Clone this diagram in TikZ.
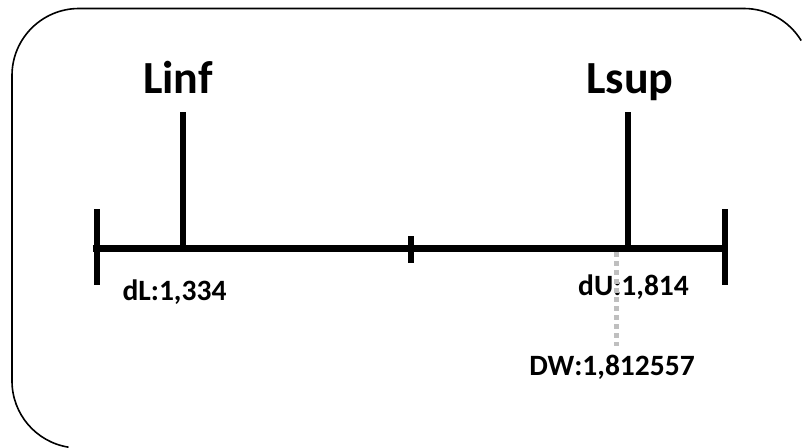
\documentclass[tikz,border=0pt]{standalone}
\usepackage{fontspec}
\setmainfont{Carlito}
\begin{document}
\begin{tikzpicture}[x=1pt,y=-1pt,
  frame/.style={draw=black,line width=1.6pt},
  axis/.style={line width=7pt},
  stick/.style={line width=6pt},
  guide/.style={draw=black!25,line width=5pt,dash pattern=on 5pt off 4pt},
  big/.style={font=\bfseries\fontsize{46}{46}\selectfont,inner sep=0pt,anchor=base},
  small/.style={font=\bfseries\fontsize{29.5}{29.5}\selectfont,inner sep=0pt,anchor=base}]
\useasboundingbox (0,0) rectangle (802,447);
% frame (only the visible part)
\coordinate (ftop) at (744,8.5);
\draw[frame] (ftop) arc[start angle=-90,end angle=-31.4,radius=67];
\draw[frame] (ftop) -- (79,8.5) arc[start angle=-90,end angle=-180,radius=67]
  -- (12,381) arc[start angle=180,end angle=99,radius=67];
% axis
\coordinate (A) at (93,248);
\coordinate (B) at (727,248);
\draw[axis] (A) -- (B);
\coordinate (Atop) at (96.5,209);
\coordinate (Abot) at (96.5,285);
\draw[stick] (Atop) -- (Abot);
\coordinate (Btop) at (724.5,209);
\coordinate (Bbot) at (724.5,285);
\draw[stick] (Btop) -- (Bbot);
\coordinate (Mtop) at (411,236);
\coordinate (Mbot) at (411,263);
\draw[stick] (Mtop) -- (Mbot);
% Linf / Lsup
\node[big] (linf) at (178,93) {Linf};
\node[big] (lsup) at (630,93) {Lsup};
\coordinate (Ltop) at (183,112);
\coordinate (Lbot) at (183,248);
\draw[stick] (Ltop) -- (Lbot);
\coordinate (Utop) at (627.5,112);
\coordinate (Ubot) at (627.5,248);
\draw[stick] (Utop) -- (Ubot);
% labels
\node[small] (dl) at (174.5,300) {dL:1,334};
\node[small] (du) at (633.5,295) {dU:1,814};
\node[small] (dw) at (612,375) {DW:1,812557};
% dashed guide (drawn over the dU label, as in the reference)
\coordinate (Gtop) at (616,252);
\coordinate (Gbot) at (616,346);
\draw[guide] (Gtop) -- (Gbot);
\end{tikzpicture}
\end{document}
